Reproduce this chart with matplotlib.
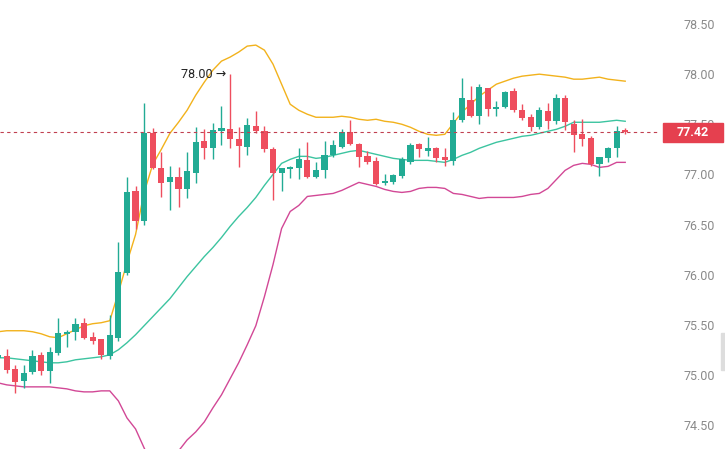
import numpy as np
import matplotlib.pyplot as plt
from matplotlib.patches import Rectangle
from matplotlib.transforms import blended_transform_factory

plt.rcParams['font.family'] = ['Roboto', 'DejaVu Sans']

# candles, index -1 is the half hidden one at the left edge
idx = np.arange(-1, 73)
opens = [75.17, 75.19, 75.06, 74.94, 75.03, 75.20, 75.04, 75.22, 75.41, 75.43, 75.52,
         75.38, 75.36, 75.19, 75.37, 76.02, 76.83, 76.53, 77.41, 77.06, 76.92, 76.97,
         76.85, 77.01, 77.33, 77.26, 77.43, 77.45, 77.35, 77.27, 77.48, 77.43, 77.25,
         77.01, 77.05, 77.06, 77.14, 76.97, 77.04, 77.19, 77.27, 77.42, 77.30, 77.18,
         77.13, 76.91, 76.92, 76.98, 77.12, 77.30, 77.23, 77.26, 77.17, 77.13, 77.54,
         77.74, 77.58, 77.86, 77.65, 77.67, 77.83, 77.64, 77.57, 77.47, 77.63, 77.53,
         77.76, 77.50, 77.40, 77.36, 77.10, 77.16, 77.26, 77.43]
highs = [75.22, 75.26, 75.10, 75.10, 75.25, 75.23, 75.28, 75.57, 75.45, 75.57, 75.57,
         75.43, 75.36, 75.60, 76.33, 76.97, 76.88, 77.71, 77.46, 77.22, 77.08, 77.07,
         77.22, 77.47, 77.45, 77.51, 77.68, 78.00, 77.47, 77.56, 77.63, 77.48, 77.27,
         77.06, 77.08, 77.26, 77.32, 77.12, 77.33, 77.34, 77.45, 77.54, 77.31, 77.23,
         77.17, 77.00, 77.00, 77.17, 77.31, 77.31, 77.37, 77.27, 77.26, 77.62, 77.96,
         77.88, 77.90, 77.86, 77.73, 77.83, 77.86, 77.70, 77.60, 77.67, 77.71, 77.80,
         77.79, 77.54, 77.55, 77.38, 77.17, 77.27, 77.48, 77.46]
lows = [75.15, 75.02, 74.82, 74.87, 75.01, 75.00, 74.92, 75.20, 75.28, 75.35, 75.36,
        75.31, 75.16, 75.16, 75.34, 76.00, 76.46, 76.50, 77.05, 76.77, 76.64, 76.67,
        76.76, 76.91, 77.15, 77.15, 77.29, 77.26, 77.07, 77.19, 77.41, 77.22, 76.74,
        76.83, 76.96, 76.95, 76.96, 76.96, 76.96, 77.17, 77.26, 77.29, 77.07, 77.10,
        76.89, 76.89, 76.90, 76.96, 77.10, 77.17, 77.18, 77.12, 77.08, 77.09, 77.52,
        77.57, 77.50, 77.58, 77.58, 77.66, 77.62, 77.54, 77.43, 77.45, 77.45, 77.50,
        77.44, 77.22, 77.28, 77.08, 76.98, 77.12, 77.17, 77.40]
closes = [75.20, 75.05, 74.93, 75.02, 75.19, 75.04, 75.23, 75.42, 75.43, 75.51, 75.37,
          75.34, 75.20, 75.40, 76.03, 76.82, 76.53, 77.41, 77.06, 76.91, 76.97, 76.85,
          77.03, 77.32, 77.26, 77.44, 77.46, 77.35, 77.28, 77.49, 77.43, 77.25, 77.01,
          77.06, 77.07, 77.15, 76.97, 77.04, 77.19, 77.29, 77.42, 77.30, 77.17, 77.12,
          76.90, 76.93, 76.99, 77.15, 77.29, 77.25, 77.26, 77.16, 77.14, 77.54, 77.76,
          77.58, 77.87, 77.65, 77.67, 77.82, 77.64, 77.56, 77.47, 77.64, 77.53, 77.76,
          77.52, 77.39, 77.35, 77.10, 77.17, 77.26, 77.43, 77.42]

# bollinger bands
upper = [75.43, 75.44, 75.44, 75.44, 75.43, 75.41, 75.38, 75.37, 75.41, 75.45, 75.49,
         75.51, 75.52, 75.54, 75.82, 76.12, 76.40, 76.82, 77.10, 77.25, 77.41, 77.52,
         77.64, 77.79, 77.92, 78.04, 78.13, 78.17, 78.22, 78.28, 78.29, 78.24, 78.10,
         77.90, 77.70, 77.64, 77.60, 77.57, 77.57, 77.57, 77.58, 77.57, 77.55, 77.54,
         77.55, 77.53, 77.52, 77.50, 77.47, 77.43, 77.40, 77.39, 77.40, 77.51, 77.62,
         77.70, 77.78, 77.84, 77.90, 77.93, 77.96, 77.98, 77.99, 78.00, 77.99, 77.98,
         77.97, 77.95, 77.95, 77.96, 77.97, 77.95, 77.94, 77.93]
middle = [75.17, 75.17, 75.16, 75.15, 75.14, 75.13, 75.12, 75.12, 75.13, 75.15, 75.16,
          75.17, 75.18, 75.20, 75.25, 75.32, 75.40, 75.49, 75.58, 75.67, 75.76, 75.87,
          75.98, 76.08, 76.18, 76.27, 76.37, 76.48, 76.58, 76.67, 76.77, 76.89, 77.00,
          77.11, 77.15, 77.18, 77.18, 77.16, 77.17, 77.19, 77.21, 77.23, 77.24, 77.22,
          77.20, 77.18, 77.16, 77.15, 77.14, 77.14, 77.14, 77.13, 77.12, 77.15, 77.19,
          77.22, 77.26, 77.29, 77.32, 77.34, 77.36, 77.38, 77.39, 77.41, 77.43, 77.45,
          77.48, 77.52, 77.52, 77.52, 77.52, 77.53, 77.54, 77.53]
lower = [74.92, 74.90, 74.89, 74.88, 74.88, 74.88, 74.88, 74.87, 74.86, 74.84, 74.83,
         74.83, 74.84, 74.84, 74.74, 74.57, 74.46, 74.27, 74.10, 74.00, 74.02, 74.24,
         74.35, 74.43, 74.53, 74.67, 74.80, 74.96, 75.12, 75.30, 75.49, 75.78, 76.10,
         76.46, 76.63, 76.69, 76.78, 76.79, 76.80, 76.81, 76.84, 76.88, 76.92, 76.90,
         76.88, 76.85, 76.83, 76.82, 76.83, 76.86, 76.87, 76.87, 76.86, 76.81, 76.80,
         76.78, 76.76, 76.77, 76.77, 76.77, 76.77, 76.78, 76.80, 76.81, 76.86, 76.95,
         77.04, 77.09, 77.11, 77.10, 77.07, 77.08, 77.12, 77.12]

yticks = [74.50, 75.00, 75.50, 76.00, 76.50, 77.00, 77.50, 78.00, 78.50]
last_price = 77.42
peak_idx, peak_val = 26, 78.00

green = '#22ab94'
red = '#ee4e5e'

fig = plt.figure(figsize=(7.25, 4.49), dpi=100)
ax = fig.add_axes([0, 0, 660 / 725, 1])

o = np.array(opens); c = np.array(closes)
up = c >= o
colors = np.where(up, green, red)
ax.vlines(idx, lows, highs, colors=colors, linewidth=1, zorder=2)
body_lo = np.minimum(o, c)
body_h = np.maximum(np.abs(c - o), 0.02)
ax.bar(idx, body_h, bottom=body_lo, width=0.72, color=colors, zorder=3)

ax.plot(idx, upper, color='#f2b21c', lw=1, zorder=1)
ax.plot(idx, middle, color='#3cc4a0', lw=1, zorder=1)
ax.plot(idx, lower, color='#d24896', lw=1, zorder=1)

ax.axhline(last_price, color='#c04050', lw=0.8, linestyle=(0, (3, 3)), zorder=4)

ax.annotate('78.00 \u2192', xy=(peak_idx, peak_val), xytext=(-4, 0),
            textcoords='offset pixels', ha='right', va='center',
            fontsize=9, color='#222222')

ax.set_xlim(-0.78, 76.05)
ax.set_ylim(74.26, 78.74)
ax.yaxis.tick_right()
ax.set_yticks(yticks)
ax.set_yticklabels(['%.2f' % t for t in yticks])
ax.tick_params(axis='y', length=0, pad=17, labelsize=9, labelcolor='#8a8a8a')
ax.set_xticks([])
for s in ax.spines.values():
    s.set_visible(False)

# last price tag on the scale
tr = blended_transform_factory(ax.transAxes, ax.transData)
ax.add_patch(Rectangle((663 / 660, last_price - 0.095), 60 / 660, 0.19,
                       transform=tr, color='#e5404f', clip_on=False, zorder=5))
ax.text((663 + 30) / 660, last_price, '%.2f' % last_price, transform=tr,
        ha='center', va='center', color='white', fontsize=9, fontweight='bold',
        zorder=6, clip_on=False)

# little scroll handle at the right edge
fig.patches.append(Rectangle((721 / 725, 1 - 370 / 449), 4 / 725, 37 / 449,
                             transform=fig.transFigure, color='#dddddd'))

fig.savefig('out.png', dpi=100, facecolor='white')
